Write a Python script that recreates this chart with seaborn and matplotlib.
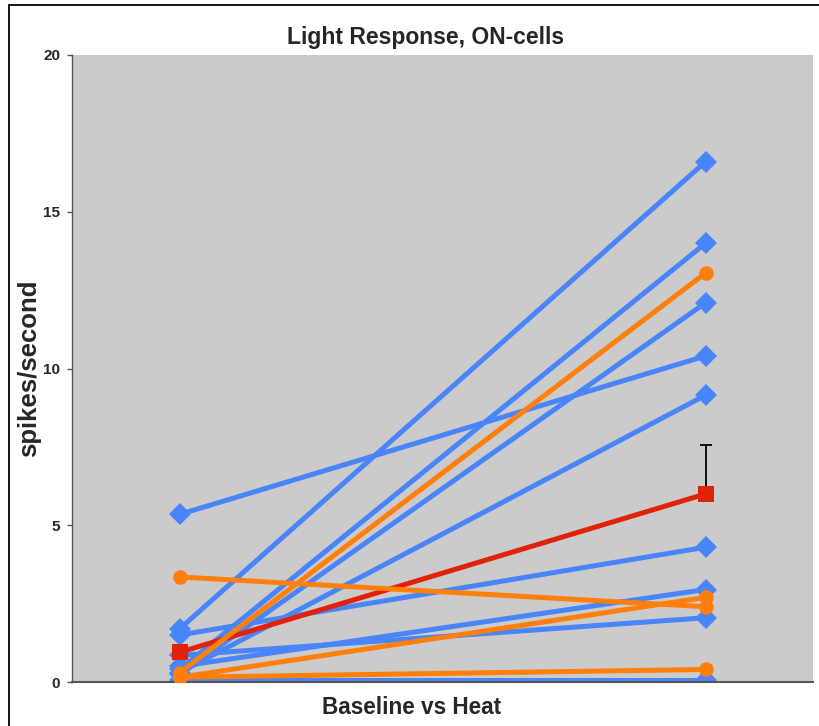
import numpy as np
import pandas as pd
import matplotlib
matplotlib.use("Agg")
import matplotlib.pyplot as plt
import seaborn as sns
from matplotlib.lines import Line2D

# ---- data ----
conditions = ["Baseline", "Heat"]
blue_baseline = [5.35, 1.7, 1.5, 0.85, 0.5, 0.4, 0.25, 0.3, 0.05]
blue_heat = [10.4, 16.6, 4.3, 2.05, 2.95, 14.0, 12.1, 9.15, 0.05]
orange_baseline = [3.35, 0.3, 0.15, 0.15]
orange_heat = [2.4, 13.05, 2.7, 0.4]
mean_values = [0.95, 6.0]
mean_err_upper = [0.0, 1.55]
y_ticks = [0, 5, 10, 15, 20]

title = "Light Response, ON-cells"
xlabel = "Baseline vs Heat"
ylabel = "spikes/second"

BLUE = "#4884FA"
ORANGE = "#FF7F0A"
RED = "#E02208"
BG = "#CBCBCB"


def long_frame(base, heat, prefix):
    rows = []
    for i, (b, h) in enumerate(zip(base, heat)):
        rows.append({"cell": f"{prefix}{i}", "pos": 0, "value": b})
        rows.append({"cell": f"{prefix}{i}", "pos": 1, "value": h})
    return pd.DataFrame(rows)


df_blue = long_frame(blue_baseline, blue_heat, "b")
df_orange = long_frame(orange_baseline, orange_heat, "o")
df_mean = pd.DataFrame({"pos": [0, 1], "value": mean_values})

sns.set_style("white")
plt.rcParams["font.family"] = ["Liberation Sans", "DejaVu Sans"]

fig = plt.figure(figsize=(8.2, 7.26), dpi=100)
ax = fig.add_axes([72 / 820, 44 / 726, (813 - 72) / 820, (682 - 55) / 726])
ax.set_facecolor(BG)

lw = 3.6
sns.lineplot(data=df_blue, x="pos", y="value", units="cell", estimator=None,
             color=BLUE, marker="D", markersize=11, markeredgewidth=0,
             linewidth=lw, ax=ax, legend=False, zorder=2)

ax.errorbar([1], [mean_values[1]], yerr=[[0], [mean_err_upper[1]]],
            fmt="none", ecolor="black", elinewidth=1.3, capsize=4,
            capthick=1.3, zorder=3)
sns.lineplot(data=df_mean, x="pos", y="value", color=RED, marker="s",
             markersize=11, markeredgewidth=0, linewidth=lw, ax=ax,
             legend=False, zorder=4)
sns.lineplot(data=df_orange, x="pos", y="value", units="cell", estimator=None,
             color=ORANGE, marker="o", markersize=10.5, markeredgewidth=0,
             linewidth=lw, ax=ax, legend=False, zorder=5)

ax.set_xlim(-0.205, 1.204)
ax.set_ylim(0, 20)
ax.set_yticks(y_ticks)
ax.set_yticklabels([str(t) for t in y_ticks], fontsize=11, fontweight="bold")
ax.set_xticks([])
ax.tick_params(axis="y", direction="out", length=3.6, width=1, color="#555555",
               pad=5, left=True)

for s in ["top", "right"]:
    ax.spines[s].set_visible(False)
ax.spines["left"].set_color("#555555")
ax.spines["left"].set_linewidth(1)
ax.spines["bottom"].set_color("#555555")
ax.spines["bottom"].set_linewidth(1.5)

ax.set_xlabel(xlabel, fontsize=16.3, fontweight="bold", labelpad=10)
ax.xaxis.label.set_x((412 - 72) / 741)
ax.set_ylabel(ylabel, fontsize=18.5, fontweight="bold")
ax.yaxis.set_label_coords((41 - 72) / 741, 0.5)
ax.set_title(title, fontsize=16.5, fontweight="bold", pad=8,
             x=(426 - 72) / 741)

# figure frame (top and left edges visible in the reference)
fig.add_artist(Line2D([9 / 820, 1.0], [1 - 5 / 726, 1 - 5 / 726],
                      transform=fig.transFigure, color="black", linewidth=1.3))
fig.add_artist(Line2D([9 / 820, 9 / 820], [0, 1 - 5 / 726],
                      transform=fig.transFigure, color="black", linewidth=1.3))

fig.savefig("out.png", dpi=100, facecolor="white")
